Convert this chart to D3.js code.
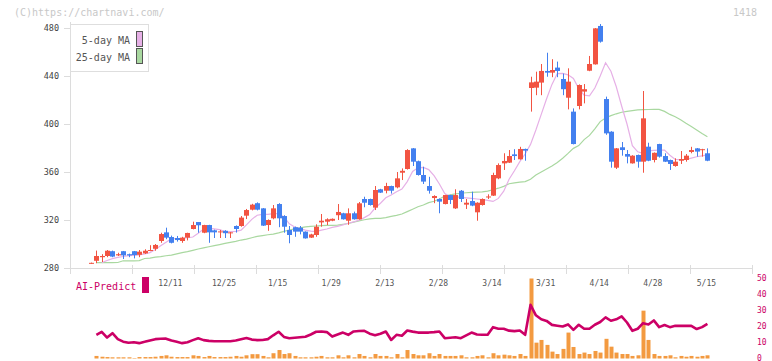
<!DOCTYPE html>
<html>
<head>
<meta charset="utf-8">
<script src="https://cdn.jsdelivr.net/npm/d3@7/dist/d3.min.js"></script>
<style>
  body { margin: 0; background: #fff; }
  svg { display: block; font-family: "DejaVu Sans Mono", monospace; }
</style>
</head>
<body>
<svg id="chart" width="772" height="361"></svg>
<script>
// daily candles, oldest first
const open = [
  284, 286, 289, 290, 294, 290.5, 294, 291.5, 294, 291,
  292.2, 294.5, 296, 302.5, 309.7, 305.8, 305, 302.5, 305.3, 312.5,
  318.3, 309.4, 315.8, 311.4, 309.7, 311, 309, 315, 315, 323.6,
  328.6, 334, 329.7, 315.8, 321.4, 333.3, 323.3, 311.7, 314, 313.6,
  310.3, 305.3, 307.5, 318, 318.6, 319.4, 324, 325.6, 319.4, 325.6,
  320.6, 337.5, 337.5, 330.3, 345.6, 344.4, 348.3, 347.2, 359.4, 362.5,
  379.7, 369, 357.5, 348.3, 338.3, 337.5, 333.3, 340.8, 329.7, 344.4,
  332.8, 335.8, 326.4, 332.5, 339, 340.3, 354.7, 367.2, 367.8, 374.7,
  370.6, 379.2, 430, 430.3, 434.5, 444.2, 442.8, 447, 437.5, 421.9,
  410.3, 415, 427, 444.4, 449.7, 481.7, 420.8, 393.6, 363.6, 380.6,
  375, 367.2, 374.2, 368.6, 381.1, 370, 383.3, 373.3, 370, 365,
  369.4, 370, 376.7, 379.7, 378.3, 375.6
];
const high = [
  284.5, 294.5, 291.5, 295, 294.5, 292.7, 294.2, 292, 294.2, 295,
  295.6, 299, 300, 309.4, 313.6, 307, 306.7, 306, 309.4, 318.6,
  318.3, 316, 316, 312, 311.7, 311.5, 310, 315.5, 323.3, 329.2,
  333.5, 334.7, 330, 320.5, 332.5, 334, 324, 315, 314.5, 315,
  310.5, 308.5, 316.4, 325, 321.4, 321.3, 333.3, 326, 329.7, 327,
  335, 339.4, 337.8, 348.3, 346, 351, 348.6, 360, 363, 379,
  380, 369.5, 364.4, 356, 340.6, 338, 341, 341, 345.6, 345,
  337.5, 343.6, 334.8, 338, 341.4, 359.4, 367.2, 375.6, 378.3, 379,
  381, 379.5, 439.4, 443.6, 450, 459.4, 454, 452, 442, 446.4,
  413, 433, 433.3, 456.7, 480, 483.3, 422.8, 394, 380, 385,
  378.3, 374, 374.5, 427.5, 384.4, 376.3, 383.5, 375.6, 370.3, 371.4,
  377.5, 375, 381, 380, 379.3, 379.7
];
const low = [
  283.5, 284, 285, 289, 289, 290, 287.5, 289, 288, 289,
  291.7, 294, 294.4, 301, 304, 300.5, 302, 301, 303, 312.2,
  309.4, 309, 301, 305, 305, 305, 305, 309.5, 314.4, 320.8,
  328, 328, 315, 311, 320.6, 314, 309.4, 300.6, 306, 308,
  304.5, 305, 306, 314.4, 315.8, 319, 320, 320.3, 316, 320.3,
  320.3, 330.6, 332, 328.3, 342.5, 342.2, 342, 346.4, 353.3, 362,
  365, 357, 350, 342, 334, 325.6, 333, 333.3, 329.2, 335,
  329.2, 331.5, 319.4, 332, 337.5, 340, 354, 361.7, 367.5, 370,
  370.3, 369.4, 410.3, 424, 424, 439.4, 439, 439, 424, 412.2,
  383, 412.2, 417.2, 444, 449.5, 467.8, 391, 363.6, 362.5, 373.6,
  367.2, 367, 363.6, 359.4, 369, 368, 372, 368.3, 361.7, 364.4,
  366.7, 368.6, 375.6, 372.8, 372.8, 369
];
const close = [
  284.3, 290, 290, 294.4, 289.5, 291.5, 290.5, 290.5, 290.8, 293.6,
  294.4, 295, 299.2, 308.3, 305.3, 301, 303.3, 305.3, 309.2, 315.8,
  315.6, 315.8, 309.7, 309.7, 310.5, 309, 309.7, 312.5, 322, 328.3,
  332.8, 328.6, 315.3, 320, 329.7, 321.4, 314.4, 307.5, 310.3, 310.3,
  304.7, 308, 314.4, 319.4, 320.6, 321, 326.7, 320.6, 325.6, 320.6,
  333.9, 334.4, 332.5, 345, 342.8, 348.3, 344.4, 354.7, 361, 378.3,
  368.6, 357.5, 352, 344.4, 340, 335.3, 340.8, 336.7, 340.8, 337.5,
  334.4, 332, 334.4, 337.5, 339.6, 357.5, 365.8, 369.2, 373.3, 373.3,
  379.2, 377.8, 434.7, 435.3, 444.2, 442.8, 445, 444.2, 429, 435.3,
  383.3, 432.5, 429, 450, 479.7, 468.6, 392.2, 368.6, 379.7, 378.3,
  372.8, 373.6, 368.6, 404.7, 369.4, 376, 372.8, 368.6, 366.7, 368.6,
  370.8, 373.6, 378.3, 377, 379, 369.4
];
const ma5 = [
  null, null, 284.5, 286.3, 287.8, 288.8, 289.6, 290.3, 290.6, 291,
  291.7, 292.8, 295.5, 298.5, 301.5, 304.3, 304.6, 304.7, 305.2, 305.8,
  309, 312.5, 313, 312.6, 312, 310.4, 310.3, 310.6, 311.5, 316,
  320.5, 324, 324.7, 324.7, 325.3, 325.4, 322.5, 316.8, 314.2, 312.8,
  311.6, 310.8, 310.4, 311.5, 312.5, 313.8, 314.7, 316, 317.3, 318.5,
  319.8, 322, 324.5, 330, 334, 338.5, 340.8, 343.5, 345.8, 352,
  360.5, 363.5, 363.8, 362, 357, 350, 342, 339.6, 339.2, 338.8,
  338.4, 338, 337.5, 337, 336.3, 335.5, 338, 344, 354, 361,
  368.6, 375, 383, 395, 408, 421, 433, 442, 442.2, 441,
  438, 429.5, 424, 423.5, 430, 440, 451, 444, 431, 415,
  400, 382, 376.8, 375.6, 377.6, 378, 378.2, 378.3, 374, 370.5,
  370.2, 370.4, 371.5, 372.7, 373.5, 374.2
];
const ma25 = [
  null, 284.4, 284.4, 284.4, 284.4, 284.6, 286, 286, 286, 286.2,
  287.9, 288.3, 289, 289.5, 290.2, 290.8, 291.8, 292.8, 293.6, 294.7,
  295.8, 296.8, 297.7, 298.6, 299.5, 300.5, 301.3, 302.2, 303.3, 304,
  305.2, 306.3, 307, 307.7, 308.3, 309.3, 310.5, 311.7, 312.6, 313.5,
  314.3, 314.7, 315, 315.3, 315.5, 315.6, 315.8, 316.4, 317.1, 318.2,
  319.3, 320.2, 321, 321.4, 321.4, 322, 323, 323.8, 325, 327,
  329, 331, 332.5, 334.5, 335.6, 337.5, 340, 341, 341.8, 342.3,
  342.7, 343, 343.3, 343.5, 344, 345.2, 346.5, 348, 350.2, 351,
  351.5, 352, 354, 357.5, 360, 362.5, 365, 368, 371.5, 375.5,
  379.7, 382, 387, 390.5, 396, 402, 405, 407, 408.5, 409.8,
  410.5, 411.2, 411.7, 412, 412.1, 412.2, 412.2, 410.5, 408, 406,
  403.5, 400.6, 398, 395, 392, 389.4
];
// lower panel
const aiPredict = [
  null, 14.8, 16.7, 13.1, 15.8, 12.1, 10.5, 9.8, 10.2, 9.6,
  10.4, 11.3, 12.1, 12.3, 12.4, 11.2, 10.4, 9.6, 10.2, 11.5,
  12.7, 11.5, 11, 10.8, 10.8, 10.8, 10.8, 11.2, 12, 12.8,
  11.8, 11.5, 11.6, 12.1, 14.5, 16.7, 13.5, 12.7, 13, 13.3,
  13.6, 15, 16.7, 16.9, 16.5, 13.7, 15, 16.2, 14.8, 16.9,
  17.2, 17.3, 15.5, 14.5, 15.5, 16.9, 11.6, 14.8, 14.2, 17.5,
  16.8, 16.2, 16.2, 16.2, 16.5, 16.9, 12.7, 13, 13.3, 12.7,
  14.5, 16.2, 15, 14.8, 14.8, 19.6, 18.6, 18.6, 17.4, 17.1,
  17.5, 14.8, 33.5, 27, 24.5, 23.5, 21, 20.5, 20, 21.3,
  17.9, 21.1, 18.6, 18.6, 21.1, 22.8, 25.7, 23.6, 24.5, 26.3,
  22.5, 17.3, 18.6, 22.1, 21.3, 23.8, 19.6, 20.9, 19.6, 20.4,
  20.4, 20.4, 20.4, 18.4, 19.6, 21.7
];
const volume = [
  null, 1.6, 1.1, 0.9, 0.75, 0.75, 0.75, 0.75, 0.3, 0.9,
  0.9, 0.9, 1.1, 1.6, 2, 1.1, 0.9, 0.9, 0.9, 2,
  1.6, 0.9, 1.6, 0.9, 0.9, 0.9, 1.1, 1.6, 1.1, 2,
  2.7, 2.7, 1.6, 0.75, 3.3, 5.3, 2.8, 3.3, 1.6, 0.75,
  0.75, 0.75, 1.1, 1.6, 0.75, 0.75, 2, 0.75, 2, 0.75,
  2.8, 1.6, 0.75, 2.8, 1.6, 1.6, 0.75, 2.8, 0.75, 5.3,
  2.8, 2, 2, 3.3, 1.6, 2.8, 1.6, 1.6, 1.6, 2,
  0.75, 0.75, 1.6, 2, 0.75, 3.3, 2, 2.4, 2, 1.6,
  2.8, 1.6, 50, 9.9, 11.6, 8.5, 4.3, 2.8, 6, 16.2,
  7.2, 2.8, 3.7, 2.8, 4.7, 3.7, 12.3, 7.4, 3.7, 2.8,
  2.8, 1.6, 2, 29.9, 11.6, 2.8, 1.6, 1.6, 2, 0.75,
  1.6, 1.1, 1.6, 1.1, 1.6, 2
];
const dateLabels = ["12/11", "12/25", "1/15", "1/29", "2/13", "2/28", "3/14", "3/31", "4/14", "4/28", "5/15"];
const dateIndex = [15, 25, 35, 45, 55, 65, 75, 85, 95, 105, 115];
const priceTicks = [280, 320, 360, 400, 440, 480];
const aiTicks = [0, 10, 20, 30, 40, 50];

const RED = "#f25442", BLUE = "#4380ef", PINK = "#e6b0e6", GREEN = "#a9d8a0", AI = "#cc0066";

const svg = d3.select("#chart");
const plot = { left: 70, right: 752, top: 28, bottom: 268 };

const x = d3.scaleLinear().domain([0, close.length - 1]).range([91, 707.4]);
const y = d3.scaleLinear().domain([280, 480]).range([plot.bottom, plot.top]);
const yAi = d3.scaleLinear().domain([0, 50]).range([358.5, 278.5]);
const grid = d3.scaleLinear().domain([0, 11]).range([plot.left, plot.right]);
const px = i => Math.round(x(i));

// watermark + code
svg.append("text").attr("x", 14).attr("y", 16).attr("font-size", 10).attr("fill", "#c8c8c8")
  .text("(C)https://chartnavi.com/");
svg.append("text").attr("x", 757).attr("y", 16).attr("text-anchor", "end").attr("font-size", 10).attr("fill", "#c8c8c8")
  .text("1418");

// axes
const axisCol = "#dcdcdc";
svg.append("line").attr("x1", plot.left + 0.5).attr("x2", plot.left + 0.5).attr("y1", 22).attr("y2", plot.bottom + 0.5)
  .attr("stroke", axisCol);
svg.append("line").attr("x1", plot.left).attr("x2", plot.right).attr("y1", plot.bottom + 0.5).attr("y2", plot.bottom + 0.5)
  .attr("stroke", axisCol);
svg.append("g").selectAll("line").data(d3.range(12)).join("line")
  .attr("x1", d => Math.round(grid(d)) + 0.5).attr("x2", d => Math.round(grid(d)) + 0.5)
  .attr("y1", plot.bottom - 3).attr("y2", plot.bottom + 6).attr("stroke", axisCol);
svg.append("g").selectAll("line").data(priceTicks).join("line")
  .attr("x1", 64).attr("x2", plot.left).attr("y1", d => Math.round(y(d)) + 0.5).attr("y2", d => Math.round(y(d)) + 0.5)
  .attr("stroke", axisCol);
svg.append("g").selectAll("text").data(priceTicks).join("text")
  .attr("x", 59).attr("y", d => y(d) + 3).attr("text-anchor", "end")
  .attr("font-size", 8.5).attr("fill", "#444").text(d => d);
svg.append("g").selectAll("text").data(dateIndex).join("text")
  .attr("x", d => x(d) - 1).attr("y", 286).attr("text-anchor", "middle")
  .attr("font-size", 8).attr("fill", "#555").text((d, i) => dateLabels[i]);

// moving averages
const maLine = arr => d3.line().defined(d => d != null).x((d, i) => x(i)).y(d => y(d))(arr);
svg.append("path").attr("d", maLine(ma25)).attr("fill", "none").attr("stroke", GREEN).attr("stroke-width", 1.2);
svg.append("path").attr("d", maLine(ma5)).attr("fill", "none").attr("stroke", PINK).attr("stroke-width", 1.2);

// candles
const idx = d3.range(close.length);
const candles = svg.append("g").selectAll("g").data(idx).join("g")
  .attr("fill", i => close[i] >= open[i] ? RED : BLUE)
  .attr("stroke", i => close[i] >= open[i] ? RED : BLUE);
candles.append("line")
  .attr("x1", i => px(i) + 0.5).attr("x2", i => px(i) + 0.5)
  .attr("y1", i => y(high[i])).attr("y2", i => y(low[i]));
candles.append("rect").attr("stroke", "none")
  .attr("x", i => px(i) - 2).attr("width", 5)
  .attr("y", i => y(Math.max(open[i], close[i])))
  .attr("height", i => Math.max(1, Math.abs(y(open[i]) - y(close[i]))));

// legend
const lg = svg.append("g");
lg.append("rect").attr("x", 70.5).attr("y", 24.5).attr("width", 78).attr("height", 47)
  .attr("fill", "#fff").attr("stroke", "#dedede");
[["5-day MA", PINK, 43.5, 31.5], ["25-day MA", GREEN, 60.5, 48.5]].forEach(([t, c, ty, ry]) => {
  lg.append("text").attr("x", 130).attr("y", ty).attr("text-anchor", "end")
    .attr("font-size", 10).attr("fill", "#555").text(t);
  lg.append("rect").attr("x", 136.5).attr("y", ry).attr("width", 6).attr("height", 15)
    .attr("fill", c).attr("stroke", "#555");
});

// lower panel: AI-Predict
svg.append("text").attr("x", 76).attr("y", 290).attr("font-size", 10).attr("fill", AI).text("AI-Predict");
svg.append("rect").attr("x", 142).attr("y", 277).attr("width", 7).attr("height", 16).attr("fill", AI);

svg.append("g").selectAll("rect").data(idx.filter(i => volume[i] != null)).join("rect")
  .attr("x", i => px(i) - 1.5).attr("width", 4)
  .attr("y", i => yAi(volume[i])).attr("height", i => yAi(0) - yAi(volume[i]))
  .attr("fill", "#f39a40");

svg.append("path")
  .attr("d", d3.line().defined(d => d != null).x((d, i) => x(i)).y(d => yAi(d))(aiPredict))
  .attr("fill", "none").attr("stroke", AI).attr("stroke-width", 2.6).attr("stroke-linejoin", "round");

svg.append("g").selectAll("text").data(aiTicks).join("text")
  .attr("x", 757).attr("y", d => yAi(d) + 2).attr("font-size", 8).attr("fill", AI).text(d => d);
</script>
</body>
</html>
